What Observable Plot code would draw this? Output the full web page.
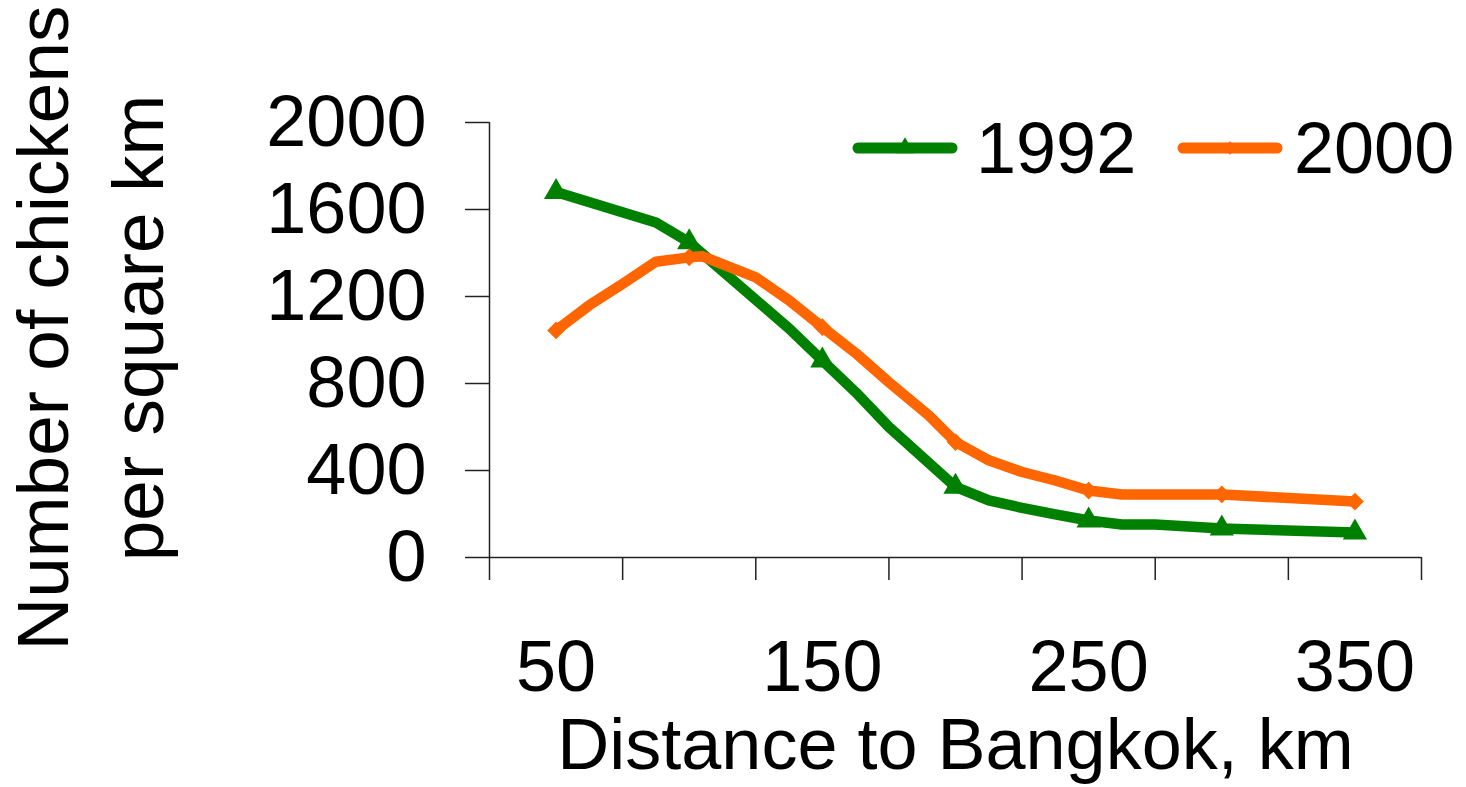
<!DOCTYPE html>
<html><head><meta charset="utf-8">
<script src="https://cdn.jsdelivr.net/npm/d3@7"></script>
<script src="https://cdn.jsdelivr.net/npm/@observablehq/plot@0.6"></script>
<style>
body{margin:0;background:#fff;}
#wrap{position:relative;width:1466px;height:787px;font-family:"Liberation Sans",Arial,sans-serif;}
</style></head><body><div id="wrap"></div>
<script>
// ---- data ----
const distance1992 = [50, 87.5, 100, 137.5, 150, 162.5, 175, 200, 212.5, 225, 237.5, 250, 262.5, 275, 300, 350];
const chickens1992 = [1680, 1540, 1449, 1053, 906, 760, 600, 325, 263, 228, 198, 170, 152, 152, 133, 115];
const distance2000 = [50, 62.5, 75, 87.5, 100, 105, 125, 137.5, 150, 162.5, 175, 190, 200, 212.5, 225, 237.5, 250, 262.5, 300, 350];
const chickens2000 = [1044, 1160, 1258, 1360, 1380, 1385, 1288, 1182, 1059, 940, 806, 653, 531, 447, 393, 354, 308, 290, 290, 257];
const markerDistances = [50, 100, 150, 200, 250, 300, 350];
const xTickValues = [25, 75, 125, 175, 225, 275, 325, 375];
const xLabelValues = [50, 150, 250, 350];
const yTickValues = [0, 400, 800, 1200, 1600, 2000];
const seriesNames = ["1992", "2000"];
const seriesColors = ["#008000", "#FF6600"];
const xTitle = "Distance to Bangkok, km";
const yTitle = "Number of chickens\nper square km";

const font = '"Liberation Sans", Arial, sans-serif';
const rows1992 = distance1992.map((d, i) => ({km: d, value: chickens1992[i]}));
const rows2000 = distance2000.map((d, i) => ({km: d, value: chickens2000[i]}));
const marks1992 = rows1992.filter(r => markerDistances.includes(r.km));
const marks2000 = rows2000.filter(r => markerDistances.includes(r.km));

const chart = Plot.plot({
  width: 1466, height: 787,
  marginLeft: 489, marginRight: 45, marginTop: 122, marginBottom: 230,
  style: {fontFamily: font, background: "#fff", color: "#000", overflow: "visible"},
  x: {type: "linear", domain: [25, 375]},
  y: {type: "linear", domain: [0, 2000]},
  marks: [
    Plot.axisX(xTickValues, {tickSize: 23, tickFormat: () => "", stroke: "#222", strokeWidth: 1.5, label: null}),
    Plot.axisX(xLabelValues, {tickSize: 0, tickPadding: 82, fontSize: 72, fill: "#000", label: null, tickFormat: d => String(d)}),
    Plot.axisY(yTickValues, {tickSize: 24, tickPadding: 39, fontSize: 72, fill: "#000", stroke: "#222", strokeWidth: 1.5, label: null, tickFormat: d => String(d)}),
    Plot.ruleY([0], {stroke: "#222", strokeWidth: 1.5}),
    Plot.ruleX([25], {y1: 0, y2: 2000, stroke: "#222", strokeWidth: 1.5}),
    Plot.line(rows1992, {x: "km", y: "value", stroke: seriesColors[0], strokeWidth: 10.5, strokeLinejoin: "round"}),
    Plot.dot(marks1992, {x: "km", y: "value", symbol: "triangle", r: 9, fill: seriesColors[0], stroke: "none"}),
    Plot.line(rows2000, {x: "km", y: "value", stroke: seriesColors[1], strokeWidth: 10.5, strokeLinejoin: "round"}),
    Plot.dot(marks2000, {x: "km", y: "value", symbol: "diamond2", r: 8, fill: seriesColors[1], stroke: "none"}),
    Plot.text([xTitle], {frameAnchor: "bottom", lineAnchor: "top", dy: 160, fontSize: 72, fill: "#000"}),
    Plot.text([yTitle], {frameAnchor: "left", rotate: -90, lineAnchor: "top", textAnchor: "middle", dx: -489, dy: -12, fontSize: 73, lineHeight: 1.3, fill: "#000"})
  ]
});
document.getElementById("wrap").appendChild(chart);

// ---- legend (HTML/SVG overlay) ----
const leg = d3.select("#wrap").append("svg")
  .attr("width", 626).attr("height", 90)
  .style("position", "absolute").style("left", "840px").style("top", "105px")
  .style("font-family", font);
const items = [
  {name: seriesNames[0], color: seriesColors[0], x0: 12, sym: d3.symbolTriangle, size: 150, tx: 136},
  {name: seriesNames[1], color: seriesColors[1], x0: 337, sym: d3.symbolSquare, size: 90, tx: 454, rot: 45}
];
for (const it of items) {
  leg.append("line").attr("x1", it.x0 + 6).attr("x2", it.x0 + 100).attr("y1", 43).attr("y2", 43)
    .attr("stroke", it.color).attr("stroke-width", 11).attr("stroke-linecap", "round");
  leg.append("path").attr("d", d3.symbol(it.sym, it.size)())
    .attr("transform", `translate(${it.x0 + 53},43) rotate(${it.rot || 0})`).attr("fill", it.color);
  leg.append("text").attr("x", it.tx).attr("y", 43).attr("dy", "0.35em")
    .attr("font-size", 72).attr("fill", "#000").text(it.name);
}
</script></body></html>
